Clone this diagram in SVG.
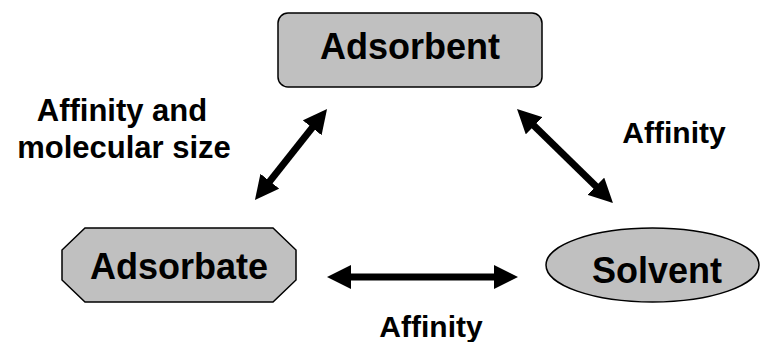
<svg xmlns="http://www.w3.org/2000/svg" width="762" height="342" viewBox="0 0 762 342">
<defs>
<style>
.node{fill:#C0C0C0;stroke:#000;stroke-width:1.5}
.nt{font-family:"Liberation Sans",Arial,sans-serif;font-weight:bold;font-size:36px;fill:#000;text-anchor:middle}
.lt{font-family:"Liberation Sans",Arial,sans-serif;font-weight:bold;font-size:30px;fill:#000;text-anchor:middle}
.arr{stroke:#000;stroke-width:7;fill:none;marker-start:url(#ah);marker-end:url(#ah)}
</style>
<marker id="ah" viewBox="0 0 24 24" markerWidth="24" markerHeight="24" refX="12" refY="12" orient="auto-start-reverse" markerUnits="userSpaceOnUse">
<path d="M0,0 L24,12 L0,24 z" fill="#000"/>
</marker>
</defs>
<rect width="762" height="342" fill="#fff"/>
<g id="connectors">
<line class="arr" x1="262.4" y1="190.6" x2="319.6" y2="118.4"/>
<line class="arr" x1="525.6" y1="117.4" x2="604.4" y2="194.6"/>
<line class="arr" x1="339" y1="277" x2="506" y2="277"/>
</g>
<g id="adsorbent">
<rect class="node" x="278" y="13" width="264" height="74" rx="10" ry="10"/>
<text class="nt" x="410" y="59">Adsorbent</text>
</g>
<g id="adsorbate">
<polygon class="node" points="85,228 273,228 296,250 296,280 273,302 85,302 62,280 62,250"/>
<text class="nt" x="179" y="279">Adsorbate</text>
</g>
<g id="solvent">
<ellipse class="node" cx="652.5" cy="265" rx="106.5" ry="37"/>
<text class="nt" x="657" y="283">Solvent</text>
</g>
<g id="labels">
<text class="lt" x="122" y="121" style="font-size:31px">Affinity and</text>
<text class="lt" x="124" y="158" style="font-size:31px">molecular size</text>
<text class="lt" x="674" y="143">Affinity</text>
<text class="lt" x="431" y="337">Affinity</text>
</g>
</svg>
